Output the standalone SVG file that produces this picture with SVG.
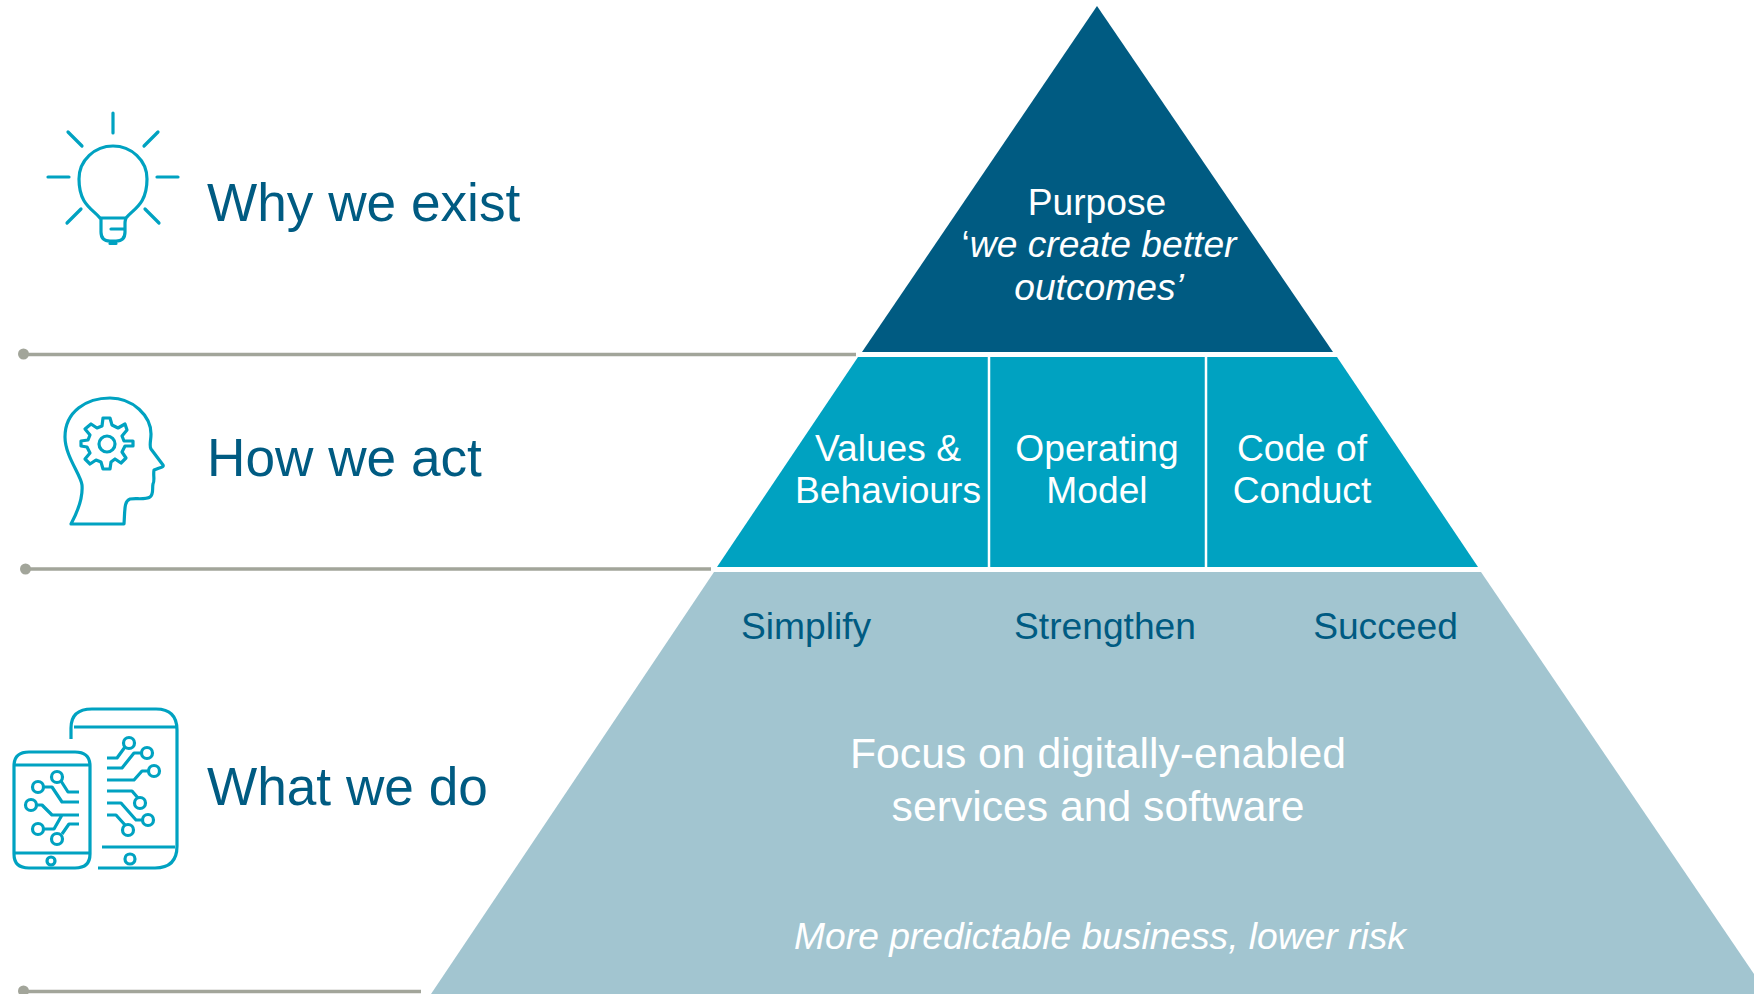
<svg xmlns="http://www.w3.org/2000/svg" width="1754" height="994" viewBox="0 0 1754 994">
<style>
text{font-family:"Liberation Sans",Arial,sans-serif}
.h{font-size:53.200px;fill:#005b82}
.w{fill:#fff;text-anchor:middle}
.w37{font-size:37.200px}
.d{fill:#005b82;font-size:37.200px;text-anchor:middle}
.ln{stroke:#a2a59a;stroke-width:3.500;fill:none}
.dot{fill:#a2a59a}
.ic{fill:none;stroke:#00a2c1;stroke-width:3.200;stroke-linecap:round;stroke-linejoin:round}
.ic2{fill:none;stroke:#00a2c1;stroke-width:3.200;stroke-linecap:butt;stroke-linejoin:round}
</style>
<rect width="1754" height="994" fill="#fff"/>
<g id="connectors">
<path class="ln" d="M23 354.500H856"/><circle class="dot" cx="23.500" cy="354" r="5.500"/>
<path class="ln" d="M25 569H711"/><circle class="dot" cx="25.500" cy="569" r="5.500"/>
<path class="ln" d="M23 991.500H421"/><circle class="dot" cx="23.500" cy="991" r="5.500"/>
</g>
<g id="top"><path d="M1097 6L1333 352H862Z" fill="#005b82"/>
<text class="w w37" x="1097" y="215">Purpose</text>
<text class="w w37" x="1099" y="257"><tspan>‘</tspan><tspan font-style="italic">we create better</tspan></text>
<text class="w w37" x="1099" y="300" font-style="italic">outcomes’</text></g>
<g id="middle"><path d="M858 357H1337L1478 567H717Z" fill="#00a2c1"/>
<path d="M989 357V567M1206 357V567" stroke="#fff" stroke-width="2.500"/>
<text class="w w37" x="888" y="461">Values &amp;</text>
<text class="w w37" x="888" y="503">Behaviours</text>
<text class="w w37" x="1097" y="461">Operating</text>
<text class="w w37" x="1097" y="503">Model</text>
<text class="w w37" x="1302" y="461">Code of</text>
<text class="w w37" x="1302" y="503">Conduct</text></g>
<g id="bottom"><path d="M714 572H1481L1754 974V994H431Z" fill="#a2c5d0"/>
<text class="d" x="806" y="639">Simplify</text>
<text class="d" x="1105" y="639">Strengthen</text>
<text class="d" x="1385.500" y="639">Succeed</text>
<text class="w" font-size="42.700" x="1098" y="768">Focus on digitally-enabled</text>
<text class="w" font-size="42.700" x="1098" y="821">services and software</text>
<text class="w w37" x="1100" y="949" font-style="italic">More predictable business, lower risk</text></g>
<g id="why"><text class="h" x="207" y="221">Why we exist</text>
<g class="ic"><path d="M113 113V133M68 132L82 146M158 132L144 146M48 177H69M157 177H178M67 223L81 209M159 223L145 209"/>
<path d="M100 218C93 209 79 205 79 179C79 160 95 146 113 146C131 146 147 160 147 179C147 205 133 209 126 218Q125 221 125 223V232Q125 241 116 241H110Q101 241 101 232V219ZM101 218H125M111 229H125M110 243.500H116"/></g></g>
<g id="how"><text class="h" x="207" y="476">How we act</text>
<g class="ic"><path d="M71 524C78 511 83 497 82 485C81 475 65 456 65 437C65 411 87 398 110 398C133 398 151 416 151 434C151 440 149 446 151 449L163 465C164 467 162 467 154 470C153 475 155 481 153 484C152 488 154 494 150 497C146 500 136 498 130 499C124 501 125 510 124 524Z"/>
<path d="M103 418H110L112 425L118 428L125 424L127 430L122 436L124 441H133V446H125L122 452L126 458L121 463L115 459L111 462L110 469H103L101 462L96 460L90 464L85 459L90 453L87 447L81 446V441L88 440L90 435L85 429L91 424L97 428L102 426Z"/><circle cx="107" cy="444" r="8"/></g></g>
<g id="what"><text class="h" x="207" y="805">What we do</text>
<g class="ic2"><path d="M71 739V728Q71 709 92 709H156Q177 709 177 730V846Q177 868 155 868H98M74 727H176M102 847H175"/><circle cx="130" cy="859" r="5"/>
<path d="M35 752H75Q90 752 90 766V854Q90 868 75 868H29Q14 868 14 854V766Q14 752 29 752ZM14 765H90M14 853H90"/><circle cx="51" cy="861" r="4"/>
<g><circle cx="129" cy="743" r="5.500"/><circle cx="147" cy="753" r="5.500"/><circle cx="154" cy="771" r="5.500"/><circle cx="140" cy="803" r="5.500"/><circle cx="148" cy="820" r="5.500"/><circle cx="128" cy="830" r="5.500"/>
<path d="M107 758H117L125 747M107 768H122L134 753H141M107 780H134L142 771H148M107 791H132L138 798M107 803H121L136 820H142M107 815H116L125 825"/></g>
<g><circle cx="57" cy="777" r="5.500"/><circle cx="38" cy="787" r="5.500"/><circle cx="31" cy="805" r="5.500"/><circle cx="38" cy="829" r="5.500"/><circle cx="57" cy="839" r="5.500"/>
<path d="M61 781L68 792H79M44 787H52L62 802H79M37 805H42L52 815H79M44 829H54L62 815M62 834L69 824H79"/></g></g></g>
</svg>
